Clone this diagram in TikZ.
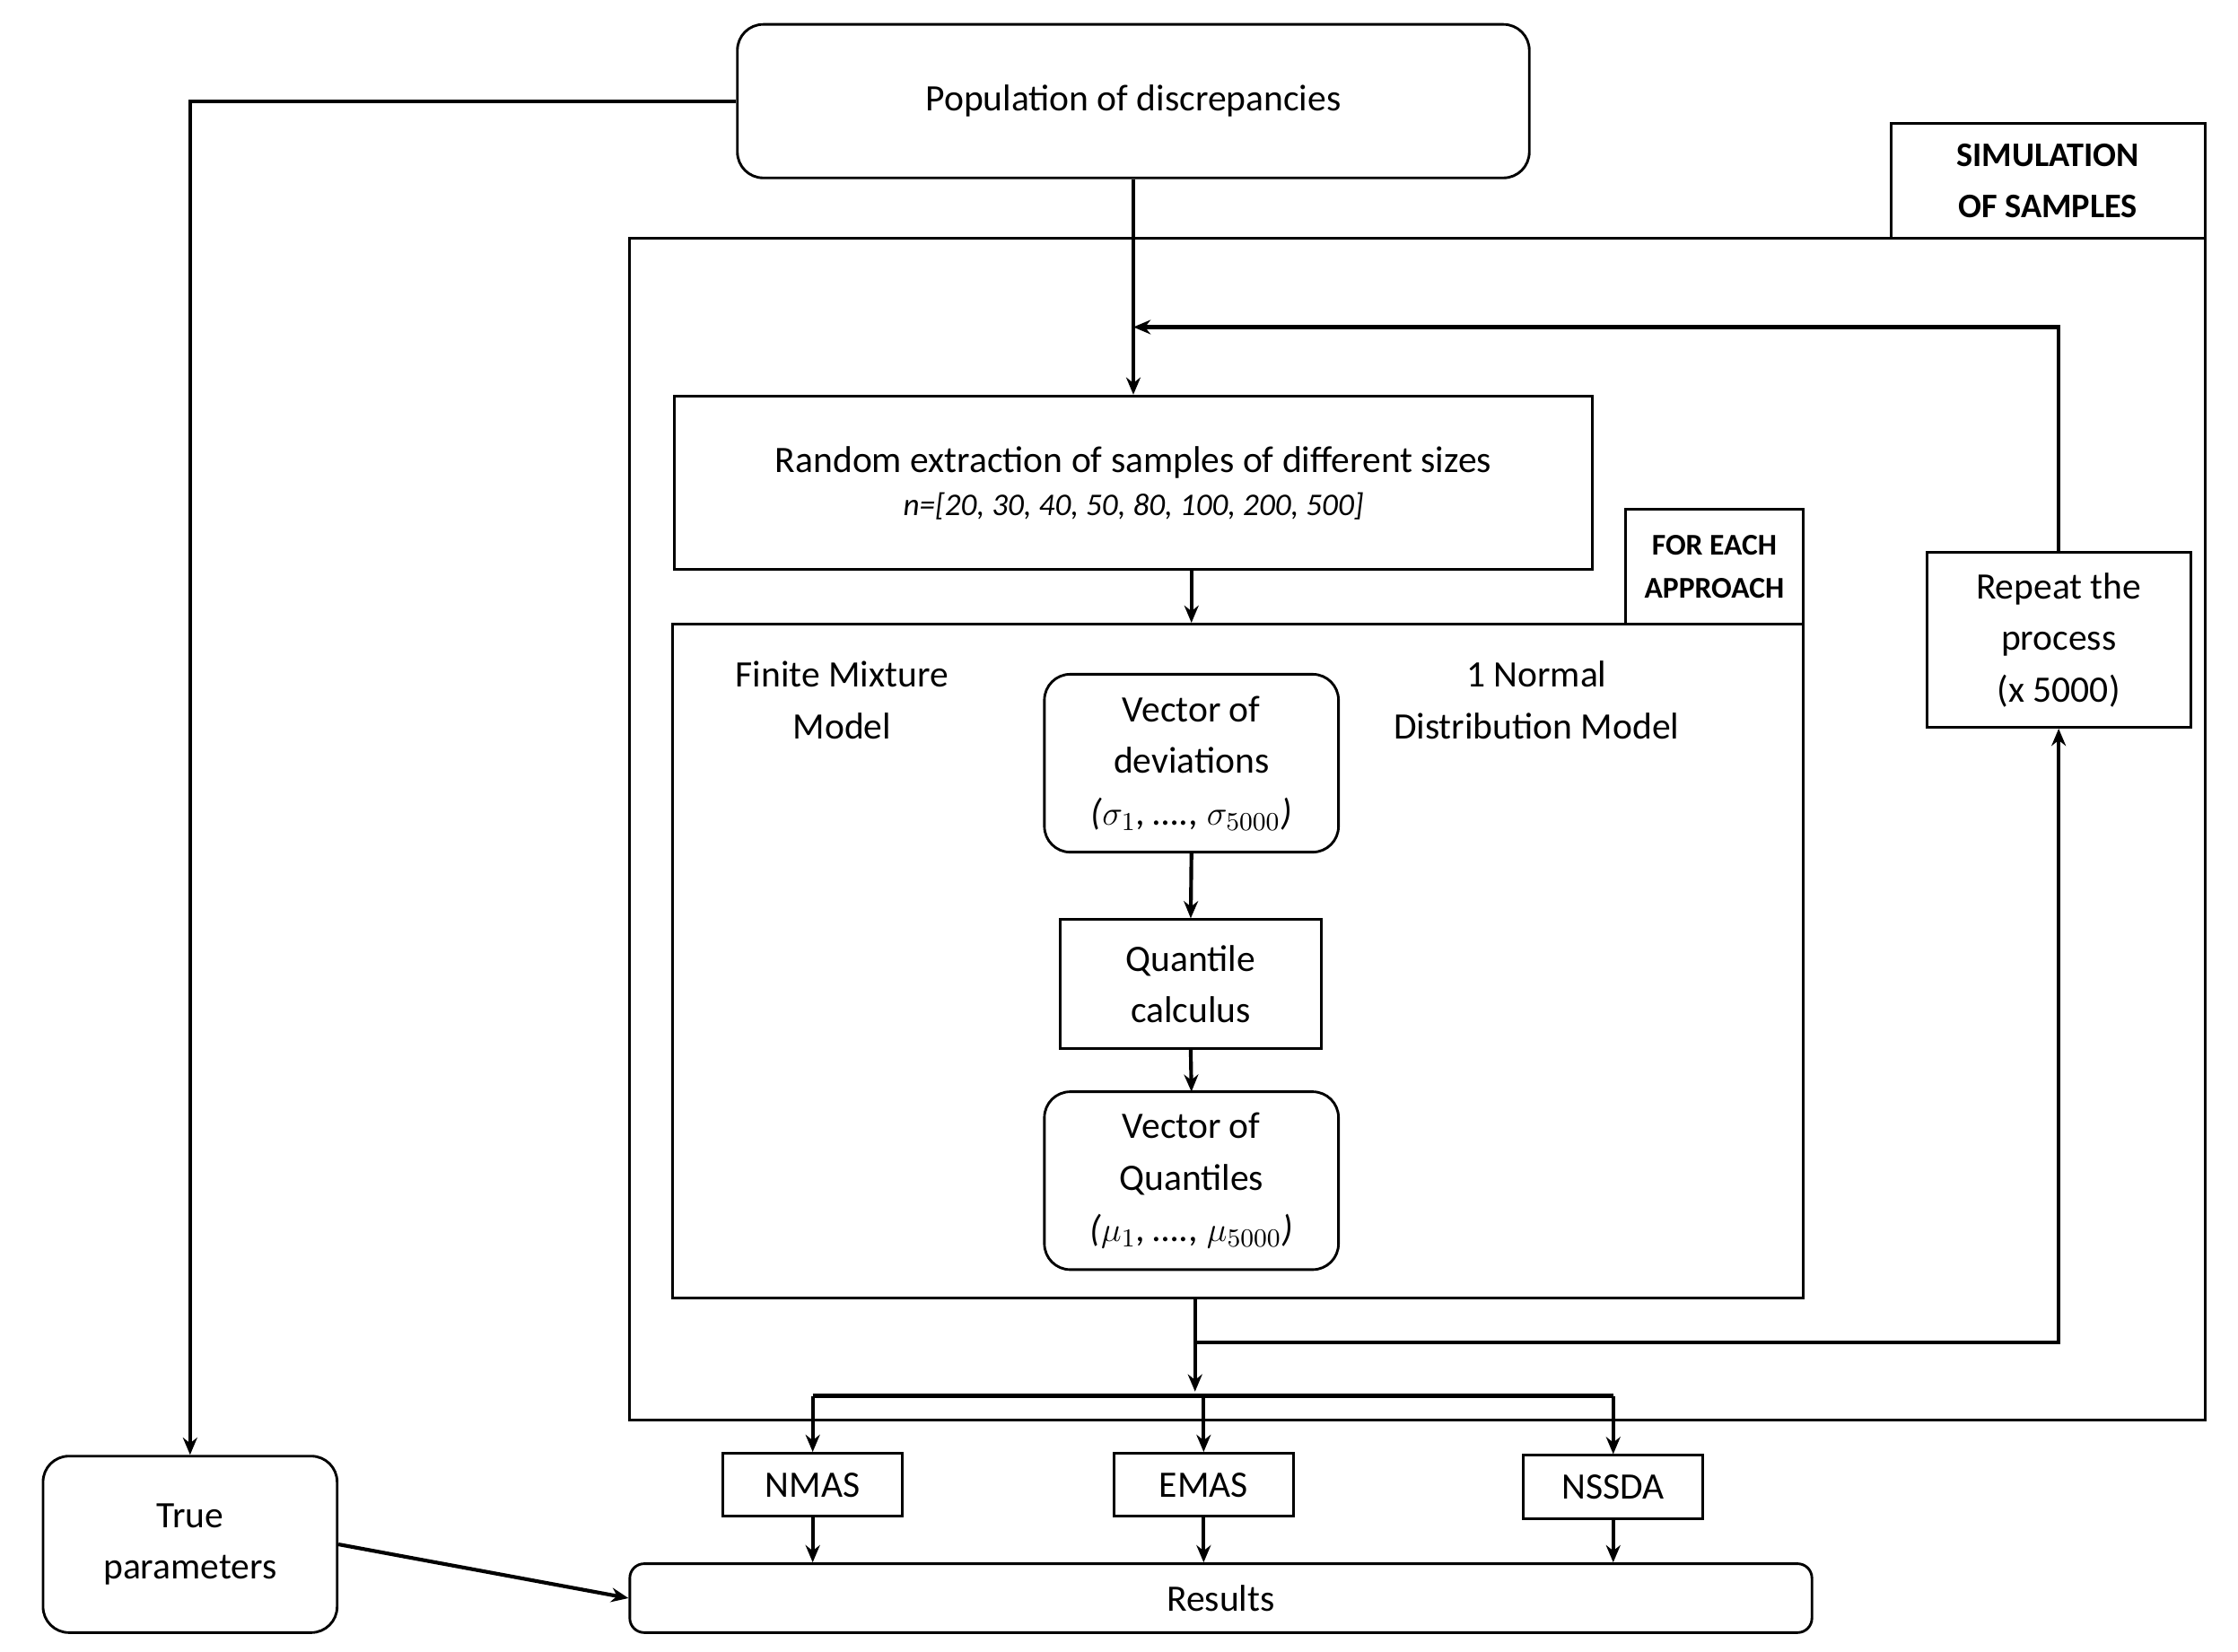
\documentclass[tikz,border=0pt]{standalone}
\usepackage{fontspec}
\setmainfont{Carlito}
\usetikzlibrary{arrows.meta}
\begin{document}
\begin{tikzpicture}[x=0.5pt,y=-0.5pt,
  box/.style={draw,line width=0.9pt,inner sep=0pt,align=center,font=\fontsize{13}{18}\selectfont},
  rbox/.style={box,rounded corners=9pt},
  lbl/.style={box,font=\fontsize{12}{18}\selectfont\bfseries},
  arr/.style={line width=1.3pt,-{Stealth[length=6pt,width=5pt]}},
  ln/.style={line width=1.3pt}]
\useasboundingbox (0,0) rectangle (1560,1151);
\node[box,minimum width=549pt,minimum height=412pt] (sim) at (988,578) {};
\node[lbl,minimum width=109.5pt,minimum height=40pt] (siml) at (1427.5,126) {SIMULATION\\OF SAMPLES};
\node[rbox,minimum width=276pt,minimum height=53.5pt] (pop) at (790,70.5) {Population of discrepancies};
\node[rbox,minimum width=102.5pt,minimum height=61.5pt] (true) at (132.5,1076.5) {True\\parameters};
\node[box,minimum width=320pt,minimum height=60.5pt] (rand) at (790,336.5) {Random extraction of samples of different sizes\\[-3pt]{\fontsize{11}{14}\selectfont\itshape n=[20, 30, 40, 50, 80, 100, 200, 500]}};
\node[box,minimum width=92pt,minimum height=61pt] (rep) at (1435,446) {Repeat the\\process\\(x 5000)};
\node[box,minimum width=394pt,minimum height=235pt] (appr) at (863,670) {};
\node[lbl,font=\fontsize{10.5}{15}\selectfont\bfseries,minimum width=62pt,minimum height=40pt] (apl) at (1195,395) {FOR EACH\\APPROACH};
\node[align=center,font=\fontsize{13}{18}\selectfont] (fmm) at (587,488) {Finite Mixture\\Model};
\node[align=center,font=\fontsize{13}{18}\selectfont] (ndm) at (1071,488) {1 Normal\\Distribution Model};
\node[rbox,minimum width=102.5pt,minimum height=62pt] (vd) at (830.5,532) {Vector of\\deviations\\\textit{($\sigma_1$, …., $\sigma_{5000}$)}};
\node[box,minimum width=91pt,minimum height=45pt] (qc) at (830,686) {Quantile\\calculus};
\node[rbox,minimum width=102.5pt,minimum height=62pt] (vq) at (830.5,823) {Vector of\\Quantiles\\\textit{($\mu_1$, …., $\mu_{5000}$)}};
\node[box,minimum width=62.5pt,minimum height=22pt] (nmas) at (566.5,1035) {NMAS};
\node[box,minimum width=62.5pt,minimum height=22pt] (emas) at (839,1035) {EMAS};
\node[box,minimum width=62.5pt,minimum height=22pt] (nssda) at (1124.5,1036.5) {NSSDA};
\node[rbox,rounded corners=5pt,minimum width=412pt,minimum height=24pt] (res) at (851,1114) {Results};
% connectors
\draw[arr] (pop.west) -| (true.north);
\draw[arr] (pop.south) -- (rand.north);
\coordinate (lt) at (pop.south |- 0,228);
\draw[arr] (rep.north) |- (lt);
\draw[arr] (rand.south -| vd.north) -- (vd.north |- appr.north);
\draw[arr] (vd.south) -- (qc.north);
\draw[arr] (qc.south) -- (vq.south |- 0,761);
\coordinate (ab) at (833,905);
\coordinate (bj) at (833,936);
\coordinate (hz) at (833,973);
\draw[ln] (ab) -- (bj);
\draw[arr] (bj) -| (rep.south);
\draw[arr] (bj) -- (833,970);
\draw[ln] (nmas.north |- hz) -- (nssda.north |- hz);
\draw[arr] (nmas.north |- hz) -- (nmas.north);
\draw[arr] (emas.north |- hz) -- (emas.north);
\draw[arr] (nssda.north |- hz) -- (nssda.north);
\draw[arr] (nmas.south) -- (nmas.south |- res.north);
\draw[arr] (emas.south) -- (emas.south |- res.north);
\draw[arr] (nssda.south) -- (nssda.south |- res.north);
\draw[arr] (true.east) -- (res.west);
\end{tikzpicture}
\end{document}
